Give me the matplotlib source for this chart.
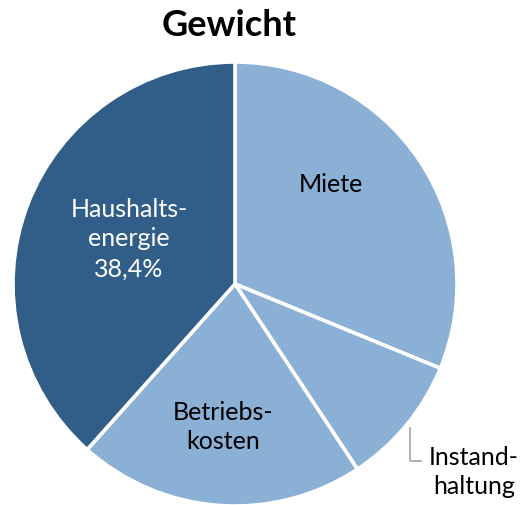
import matplotlib.pyplot as plt

labels = ["Miete", "Instandhaltung", "Betriebskosten", "Haushaltsenergie"]
values = [31.2, 9.5, 20.9, 38.4]
colors = ["#8BB0D6", "#8BB0D6", "#8BB0D6", "#315E88"]

W, H = 529, 505
fig = plt.figure(figsize=(W / 100, H / 100), dpi=100)
ax = fig.add_axes([0, 0, 1, 1])

cx, cy, r = 235, H - 284, 222
ax.pie(values, colors=colors, startangle=90, counterclock=False,
       center=(cx, cy), radius=r, frame=True,
       wedgeprops=dict(edgecolor="white", linewidth=2.6))
ax.set_xlim(0, W)
ax.set_ylim(0, H)
ax.set_aspect("equal")
ax.axis("off")

font = "Lato"
ax.text(229, H - 25, "Gewicht", ha="center", va="center",
        fontsize=26, fontweight="bold", family=font)
ax.text(331, H - 184, "Miete", ha="center", va="center",
        fontsize=18, family=font, color="black")
ax.text(129, H - 239, "Haushalts-\nenergie\n" + f"{values[3]:.1f}%".replace(".", ","),
        ha="center", va="center", fontsize=18, family=font, color="white",
        linespacing=1.35)
ax.text(223, H - 427, "Betriebs-\nkosten", ha="center", va="center",
        fontsize=18, family=font, color="black", linespacing=1.35)
ax.text(474, H - 472, "Instand-\nhaltung", ha="center", va="center",
        fontsize=18, family=font, color="black", linespacing=1.35)
ax.plot([410, 410, 421], [H - 428, H - 461, H - 461], color="#A6A6A6", lw=1.2)

fig.savefig("out.png", dpi=100)
